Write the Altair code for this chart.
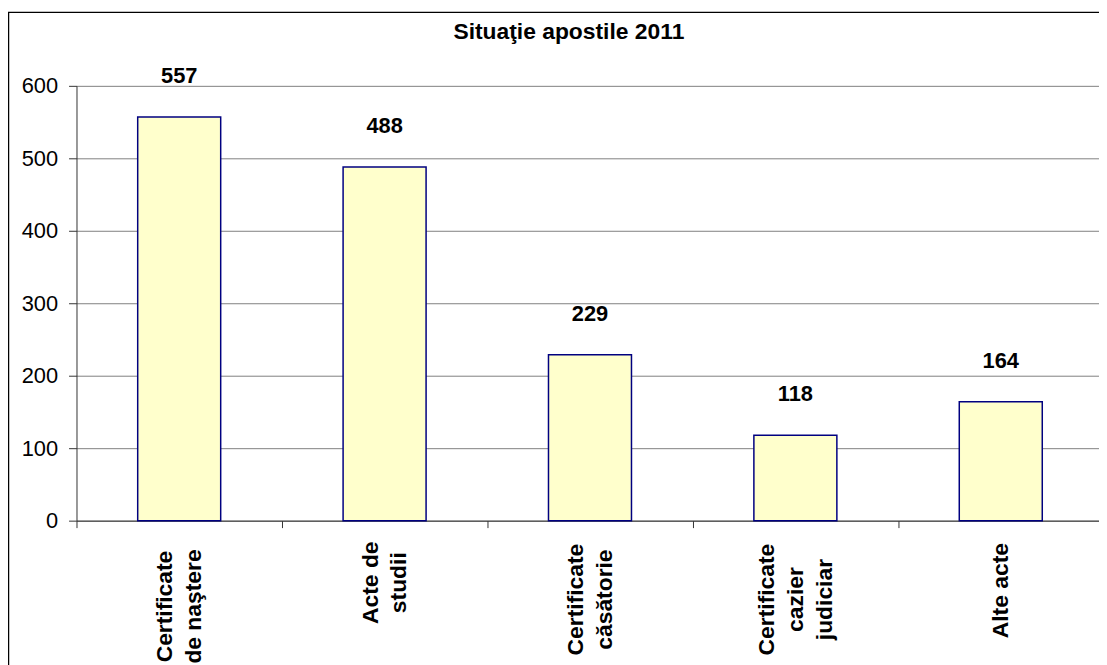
import json
import altair as alt
import pandas as pd

categories = [
    "Certificate\nde naştere",
    "Acte de\nstudii",
    "Certificate\ncăsătorie",
    "Certificate\ncazier\njudiciar",
    "Alte acte",
]
values = [557, 488, 229, 118, 164]
y_ticks = [0, 100, 200, 300, 400, 500, 600]
title_text = "Situaţie apostile 2011"

df = pd.DataFrame({"cat": categories, "val": values})

FONT = "Liberation Sans"
STEP = 206.9
LH = 29

# distance from the tick end to the centre of each rotated label block
label_pad = [79, 55, 72, 72, 63]

nlines = "length(split(datum.label, '\\n'))"

x_enc = alt.X(
    "cat:N",
    sort=categories,
    scale=alt.Scale(range=[0, STEP * len(categories)], paddingInner=0, paddingOuter=0),
    axis=alt.Axis(
        title=None,
        labelAngle=270,
        labelAlign="center",
        labelBaseline="middle",
        labelPadding={
            "condition": [
                {"test": "datum.value == " + json.dumps(c), "value": p}
                for c, p in zip(categories, label_pad)
            ],
            "value": 67,
        },
        labelOffset={
            "condition": [
                {"test": nlines + " == 3", "value": -LH},
                {"test": nlines + " == 2", "value": -LH / 2},
            ],
            "value": 0,
        },
        labelFont=FONT,
        labelFontSize=23,
        labelFontWeight="bold",
        labelColor="black",
        labelLineHeight=LH,
        labelLimit=0,
        labelOverlap=False,
        labelExpr="split(datum.label, '\\n')",
        tickBand="extent",
        tickSize=7,
        tickColor="#333333",
        domainColor="#333333",
        grid=False,
    ),
)

y_enc = alt.Y(
    "val:Q",
    scale=alt.Scale(domain=[0, 600], nice=False),
    axis=alt.Axis(
        title=None,
        values=y_ticks,
        tickSize=8,
        labelPadding=11,
        labelFont=FONT,
        labelFontSize=22,
        labelColor="black",
        tickColor="#333333",
        domainColor="#333333",
        gridColor="#808080",
        gridWidth=1,
    ),
)

base = alt.Chart(df)

bars = base.mark_bar(
    width=83.6, color="#FFFFCC", stroke="#000080", strokeWidth=1.5
).encode(x=x_enc, y=y_enc)

labels = base.mark_text(
    baseline="alphabetic", dy=-34, font=FONT, fontSize=22, fontWeight="bold", color="black"
).encode(x=alt.X("cat:N", sort=categories), y="val:Q", text="val:Q")

border = alt.Chart(pd.DataFrame({"a": [0]})).mark_rect(
    fillOpacity=0, stroke="black", strokeWidth=1.5
).encode(
    x=alt.value(-68.5), x2=alt.value(1200), y=alt.value(-74), y2=alt.value(800)
)

title = alt.Chart(pd.DataFrame({"t": [title_text]})).mark_text(
    align="center", baseline="alphabetic", font=FONT, fontSize=23, fontWeight="bold", color="black"
).encode(text="t:N", x=alt.value(496), y=alt.value(-47))

chart = (
    alt.layer(bars, labels, border, title)
    .properties(
        width=1030,
        height=438,
        autosize=alt.AutoSizeParams(type="none"),
        padding={"left": 69, "top": 76, "right": 0, "bottom": 143},
    )
    .configure_view(stroke=None)
)

chart.save("out.html", embed_options={"renderer": "svg", "actions": False})
